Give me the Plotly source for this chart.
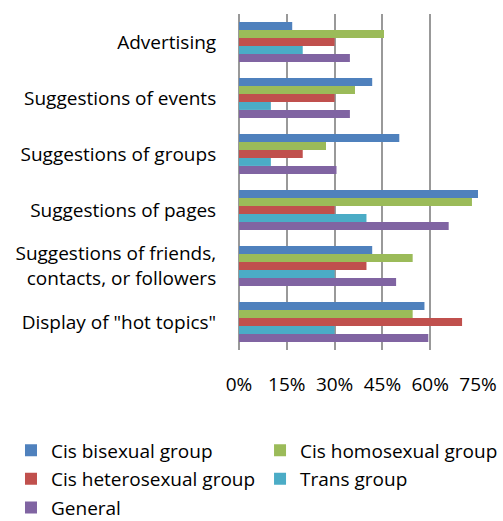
import plotly.graph_objects as go

categories = ["Advertising", "Suggestions of events", "Suggestions of groups",
              "Suggestions of pages", "Suggestions of friends,<br>contacts, or followers",
              "Display of \"hot topics\""]
series_names = ["Cis bisexual group", "Cis homosexual group", "Cis heterosexual group",
                "Trans group", "General"]
cis_bisexual = [16.7, 41.8, 50.3, 75.0, 41.8, 58.2]
cis_homosexual = [45.5, 36.4, 27.3, 73.1, 54.5, 54.5]
cis_heterosexual = [30.0, 30.0, 20.0, 30.0, 40.0, 70.0]
trans = [20.0, 10.0, 10.0, 40.0, 30.0, 30.0]
general = [34.8, 34.8, 30.6, 65.8, 49.3, 59.4]
colors = ["#4F81BD", "#9BBB59", "#C0504D", "#4BACC6", "#8064A2"]
legend_ids = ["legend", "legend2", "legend", "legend2", "legend"]
tick_vals = [0, 15, 30, 45, 60, 75]
tick_text = ["0%", "15%", "30%", "45%", "60%", "75%"]

values = [cis_bisexual, cis_homosexual, cis_heterosexual, trans, general]

fig = go.Figure()
for name, vals, col, lg in zip(series_names, values, colors, legend_ids):
    fig.add_trace(go.Bar(y=categories, x=vals, name=name, orientation="h",
                         legend=lg, legendgroup=name,
                         marker=dict(color=col, line=dict(width=0))))

FONT = "Open Sans"
FS = 19
leg_common = dict(orientation="v", yanchor="top", xanchor="left",
                  traceorder="grouped", font=dict(size=FS, family=FONT, color="#000"),
                  itemwidth=30, tracegroupgap=1, bgcolor="rgba(0,0,0,0)")
fig.update_layout(
    width=503, height=521,
    margin=dict(l=239, r=25, t=14, b=171, autoexpand=False),
    paper_bgcolor="white", plot_bgcolor="white",
    barmode="group", bargap=0.29, bargroupgap=0,
    font=dict(family=FONT, size=FS, color="#000000"),
    showlegend=True,
    legend=dict(x=-0.954, y=-0.242, **leg_common),
    legend2=dict(x=0.088, y=-0.242, **leg_common),
    xaxis=dict(range=[0, 75], tickvals=tick_vals, ticktext=tick_text,
               showgrid=True, gridcolor="#999999", gridwidth=2,
               zeroline=True, zerolinecolor="#999999", zerolinewidth=2,
               ticks="outside", ticklen=17, tickcolor="rgba(0,0,0,0)",
               tickfont=dict(size=FS), showline=False),
    yaxis=dict(autorange="reversed", showgrid=False, ticks="outside", ticklen=18,
               tickcolor="rgba(0,0,0,0)", tickfont=dict(size=FS), showline=False),
)

fig.write_html("out.html")
